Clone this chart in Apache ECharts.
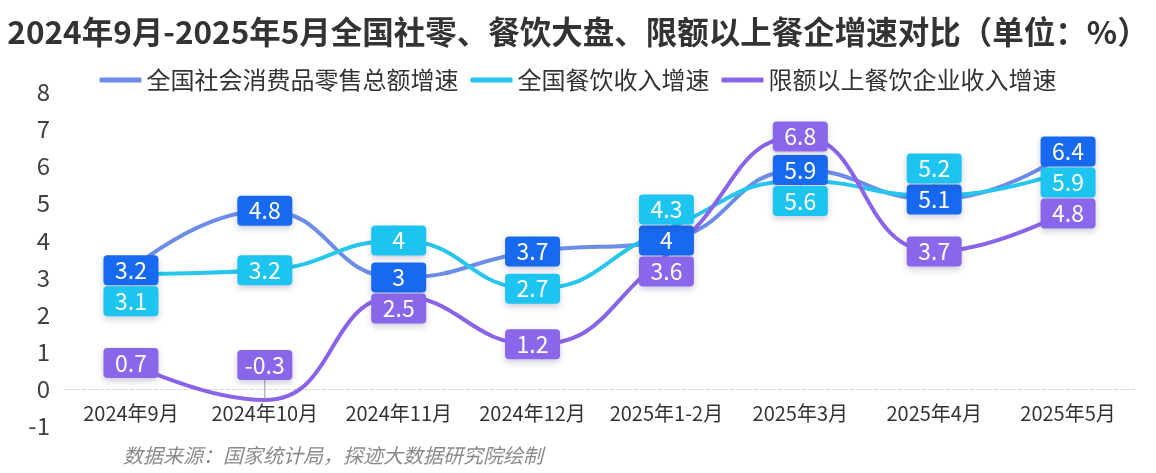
<!DOCTYPE html>
<html><head><meta charset="utf-8">
<script src="https://cdn.jsdelivr.net/npm/echarts@6/dist/echarts.min.js"></script>
<style>html,body{margin:0;padding:0;background:#fff}#c{width:1156px;height:473px}</style>
</head><body><div id="c"></div>
<script>
const categories = ['2024年9月','2024年10月','2024年11月','2024年12月','2025年1-2月','2025年3月','2025年4月','2025年5月'];
const retailGrowth = [3.2, 4.8, 3, 3.7, 4, 5.9, 5.1, 6.4];
const cateringGrowth = [3.1, 3.2, 4, 2.7, 4.3, 5.6, 5.2, 5.9];
const aboveQuotaGrowth = [0.7, -0.3, 2.5, 1.2, 3.6, 6.8, 3.7, 4.8];
const seriesNames = ['全国社会消费品零售总额增速','全国餐饮收入增速','限额以上餐饮企业收入增速'];
const yTicks = {min: -1, max: 8, interval: 1};

const allSeries = [retailGrowth, cateringGrowth, aboveQuotaGrowth];
const font = '"Noto Sans CJK SC", "Microsoft YaHei", sans-serif';
const W = 1156, H = 473;
const grid = {left: 64, right: 21, top: 92, bottom: 47};
const unitPx = (H - grid.top - grid.bottom) / (yTicks.max - yTicks.min);

const chart = echarts.init(document.getElementById('c'));

// resolve overlapping labels per category: first series stays on its point,
// later ones are pushed away from already-placed labels.
let layoutCache = null;
function computeLayout(boxH) {
  const res = [];
  const zeroY = chart.convertToPixel({xAxisIndex: 0, yAxisIndex: 0}, [0, 0])[1];
  const step = boxH + 1;
  for (let i = 0; i < categories.length; i++) {
    const ys = allSeries.map(s => chart.convertToPixel({xAxisIndex: 0, yAxisIndex: 0}, [i, s[i]])[1]);
    const pos = [];
    for (let k = 0; k < ys.length; k++) {
      let p = ys[k];
      for (let pass = 0; pass < 2; pass++) {
        for (let j = 0; j < k; j++) {
          if (Math.abs(p - pos[j]) < step) {
            const dir = allSeries[k][i] < allSeries[j][i] ? 1 : -1;
            p = pos[j] + dir * step;
          }
        }
      }
      if (p + boxH / 2 > zeroY - 9) p = zeroY - 9 - boxH / 2;
      pos.push(p);
    }
    res.push(pos.map((p, k) => p - ys[k]));
  }
  return res;
}
function labelLayout(params) {
  if (!layoutCache) layoutCache = computeLayout(params.labelRect.height);
  return {dy: layoutCache[params.dataIndex][params.seriesIndex]};
}

function mk(name, data, lineColor, boxColor) {
  return {
    name, type: 'line', data, smooth: 0.5,
    symbol: 'circle', symbolSize: 1,
    itemStyle: {color: lineColor},
    lineStyle: {width: 4, color: lineColor},
    label: {
      show: true, position: 'inside', color: '#fff', fontSize: 23, fontFamily: font,
      lineHeight: 24, backgroundColor: boxColor, borderRadius: 4, padding: [3, 8, 3, 8], width: 39, align: 'center',
      shadowColor: 'rgba(60,60,120,0.25)', shadowBlur: 6, shadowOffsetY: 3
    },
    labelLine: {show: true, lineStyle: {color: '#9a9a9a', width: 1}},
    labelLayout: labelLayout,
    z: 2
  };
}
chart.setOption({
  animation: false,
  title: [{
    text: '2024年9月-2025年5月全国社零、餐饮大盘、限额以上餐企增速对比（单位：%）',
    left: 'center', top: 11,
    textStyle: {fontSize: 31.5, fontWeight: 'bold', color: '#333', fontFamily: font}
  }, {
    text: '数据来源：国家统计局，探迹大数据研究院绘制',
    left: 118, top: 440,
    textStyle: {fontSize: 20, fontWeight: 'normal', fontStyle: 'italic', color: '#8a8a8a', fontFamily: font}
  }],
  legend: {
    top: 63, left: 'center', itemWidth: 42, itemHeight: 5, itemGap: 12, icon: 'roundRect',
    textStyle: {fontSize: 24, color: '#333', fontFamily: font}
  },
  grid: grid,
  xAxis: {
    type: 'category', data: categories, boundaryGap: true, offset: -unitPx * (0 - yTicks.min),
    axisLine: {onZero: false, lineStyle: {color: '#d9d9d9', type: 'dashed', width: 1}},
    axisTick: {show: false},
    axisLabel: {fontSize: 20, color: '#333', fontFamily: font, margin: 15, interval: 0}
  },
  yAxis: {
    type: 'value', min: yTicks.min, max: yTicks.max, interval: yTicks.interval,
    axisLine: {show: false}, axisTick: {show: false}, splitLine: {show: false},
    axisLabel: {fontSize: 24, color: '#404040', fontFamily: font, margin: 14}
  },
  series: [
    mk(seriesNames[0], retailGrowth, '#6b8de8', '#1769f0'),
    mk(seriesNames[1], cateringGrowth, '#26c6ee', '#1ec4f0'),
    mk(seriesNames[2], aboveQuotaGrowth, '#8a63e8', '#8a66ea')
  ]
});
</script></body></html>
